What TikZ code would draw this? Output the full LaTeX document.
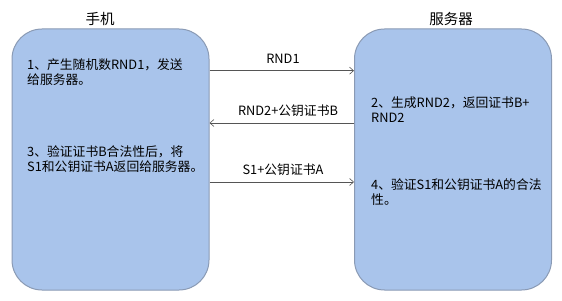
\documentclass[tikz,border=0pt]{standalone}
\usepackage{fontspec}
\setmainfont{Noto Sans CJK SC}
\usetikzlibrary{arrows.meta}
\definecolor{boxblue}{HTML}{A9C4EB}
\definecolor{boxedge}{HTML}{8A9AB4}
\definecolor{msgline}{HTML}{555555}

\tikzset{
  party/.style={draw=boxedge,line width=1pt,fill=boxblue,rounded corners=30pt,
    minimum width=197pt,minimum height=261pt},
  title/.style={font=\fontsize{14.5}{16}\selectfont},
  steptext/.style={anchor=north west,align=left,inner sep=0pt,
    font=\fontsize{12.8}{15}\selectfont},
  msglabel/.style={anchor=south,inner sep=0pt,font=\fontsize{12.8}{14}\selectfont},
  msg/.style={draw=msgline,line width=0.6pt,-{Straight Barb[length=4pt,width=7pt]}}
}

\begin{document}
\begin{tikzpicture}[x=1pt,y=1pt]
  \useasboundingbox (0,0) rectangle (562,300);
  % two parties
  \node[party] (phone) at (110.5,140.5) {};
  \node[party] (server) at (453,140.5) {};
  \node[title] (phonetitle) at (100,281) {手机};
  \node[title] (servertitle) at (451,281) {服务器};
  % steps
  \node[steptext] (s1) at (27,242) {1、产生随机数RND1，发送\\给服务器。};
  \node[steptext] (s2) at (371,203) {2、生成RND2，返回证书B+\\RND2};
  \node[steptext] (s3) at (27,155) {3、验证证书B合法性后，将\\S1和公钥证书A返回给服务器。};
  \node[steptext] (s4) at (371,122) {4、验证S1和公钥证书A的合法\\性。};
  % messages
  \coordinate (y1) at (0,229.3);
  \coordinate (y2) at (0,177);
  \coordinate (y3) at (0,118);
  \node[msglabel] (m1) at (283,236) {RND1};
  \node[msglabel] (m2) at (288,183.5) {RND2+公钥证书B};
  \node[msglabel] (m3) at (283,124.5) {S1+公钥证书A};
  \draw[msg] (phone.east |- y1) -- (server.west |- y1);
  \draw[msg] (server.west |- y2) -- (phone.east |- y2);
  \draw[msg] (phone.east |- y3) -- (server.west |- y3);
\end{tikzpicture}
\end{document}
